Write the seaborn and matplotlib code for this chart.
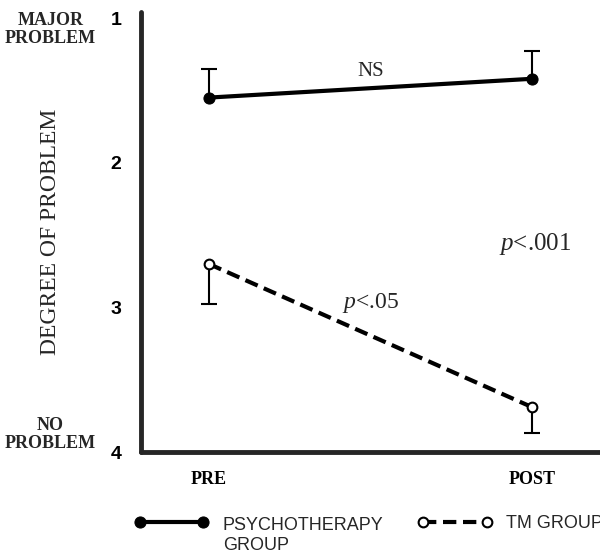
import numpy as np
import pandas as pd
import matplotlib
matplotlib.use("Agg")
import matplotlib.pyplot as plt
import matplotlib.transforms as mtransforms
import seaborn as sns

# values
phases = ["PRE", "POST"]
psycho_mean = [1.55, 1.42]
psycho_err = [0.20, 0.19]   # drawn upward only
tm_mean = [2.70, 3.69]
tm_err = [0.28, 0.18]       # drawn downward only
y_ticks = [1, 2, 3, 4]

sns.set_style("white")
plt.rcParams["font.family"] = ["Liberation Serif", "DejaVu Serif"]
plt.rcParams["mathtext.fontset"] = "custom"
plt.rcParams["mathtext.it"] = "Liberation Serif:italic"
plt.rcParams["mathtext.rm"] = "Liberation Serif"

df = pd.DataFrame({
    "phase": [0, 1, 0, 1],
    "score": psycho_mean + tm_mean,
    "group": ["PSYCHOTHERAPY\nGROUP"] * 2 + ["TM GROUP"] * 2,
})

fig = plt.figure(figsize=(6, 5.56), dpi=100)
ax = fig.add_axes([0.235, 0.187, 0.765, 0.791])

sns.lineplot(data=df, x="phase", y="score", hue="group", style="group",
             palette=["black", "black"], dashes=[(None, None), (3.2, 1.6)],
             markers=["o", "o"], lw=3, ax=ax, legend=False)
for ln in ax.lines:
    ln.set_markeredgecolor("black")
    ln.set_markersize(8)
ax.lines[1].set_markerfacecolor("white")
ax.lines[1].set_markersize(7)
ax.lines[1].set_markeredgewidth(1.5)
ax.lines[1].set_zorder(5)
handles = list(ax.lines[:2])

# one-sided error bars, cap only at the far end
x = np.arange(len(phases))
eb1 = ax.errorbar(x, psycho_mean, yerr=[psycho_err, [0, 0]], fmt="none",
                  ecolor="black", elinewidth=1.5, capsize=6, capthick=1.5, zorder=1)
eb1[1][1].remove()
eb2 = ax.errorbar(x, tm_mean, yerr=[[0, 0], tm_err], fmt="none",
                  ecolor="black", elinewidth=1.5, capsize=6, capthick=1.5, zorder=1)
eb2[1][0].remove()

ax.set_xlim(-0.21, 1.21)
ax.set_ylim(4, 0.96)
ax.set_xticks(x)
ax.set_xticklabels(phases, fontsize=13, fontweight="bold")
ax.set_yticks(y_ticks)
ax.set_yticklabels([str(v) for v in y_ticks], fontsize=14, fontweight="bold",
                   family="Liberation Sans")
ax.tick_params(axis="both", direction="in", length=7, width=2, colors="black")
ax.tick_params(axis="y", pad=14)
ax.tick_params(axis="x", pad=14)

sns.despine(ax=ax)
for side in ["left", "bottom"]:
    ax.spines[side].set_linewidth(3.5)
    ax.spines[side].set_capstyle("round")

ax.set_xlabel("")
ax.set_ylabel("DEGREE OF PROBLEM", fontsize=17, labelpad=36)

# end labels on the y axis
trans = mtransforms.blended_transform_factory(ax.transAxes, ax.transData)
ax.text(-0.197, 1.08, "MAJOR\nPROBLEM", transform=trans, ha="center", va="center",
        fontsize=13, fontweight="bold", linespacing=1.05)
ax.text(-0.197, 3.88, "NO\nPROBLEM", transform=trans, ha="center", va="center",
        fontsize=13, fontweight="bold", linespacing=1.05)

# significance annotations
ax.text(0.5, 1.37, "NS", ha="center", va="center", fontsize=15)
ax.text(0.5, 2.97, r"$\mathit{p}$<.05", ha="center", va="center", fontsize=17)
ax.text(1.01, 2.56, r"$\mathit{p}$<.001", ha="center", va="center", fontsize=18)

# legend along the bottom
leg = fig.legend(handles, ["PSYCHOTHERAPY\nGROUP", "TM GROUP"], loc="lower left",
                 bbox_to_anchor=(0.197, 0.0), ncol=2, frameon=False, numpoints=2,
                 handlelength=4.1, columnspacing=1.9, handletextpad=0.8,
                 prop={"family": "Liberation Sans", "size": 13})
# first line of the two-line label sits level with its handle
t0 = leg.get_texts()[0]
t0.set_transform(t0.get_transform()
                 + mtransforms.ScaledTranslation(0, -10 / 72, fig.dpi_scale_trans))

fig.savefig("out.png", dpi=100)
